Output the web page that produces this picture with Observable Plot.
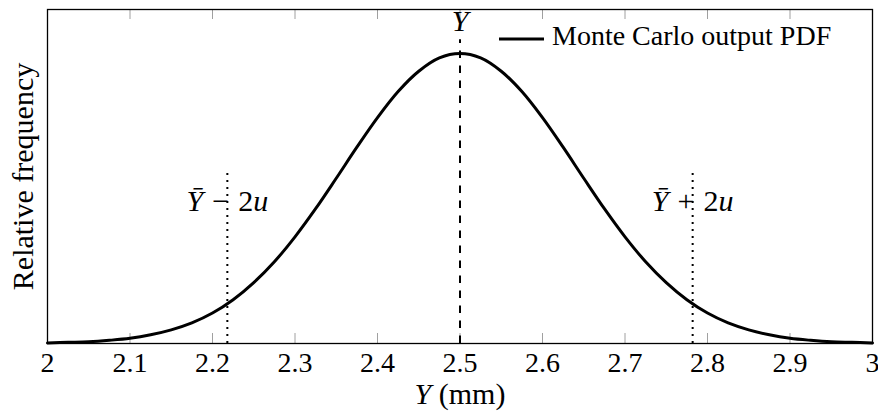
<!DOCTYPE html>
<html>
<head>
<meta charset="utf-8">
<script src="https://cdn.jsdelivr.net/npm/d3@7"></script>
<script src="https://cdn.jsdelivr.net/npm/@observablehq/plot@0.6"></script>
<style>
  html, body { margin: 0; padding: 0; background: #fff; }
  #chart svg { display: block; overflow: visible; }
  #chart svg text { font-family: 'Liberation Serif', 'Times New Roman', serif; }
</style>
</head>
<body>
<div id="chart"></div>
<script>
// Y (mm) sample positions and relative frequency
const yValues = [2.000, 2.025, 2.050, 2.075, 2.100, 2.125, 2.150, 2.175, 2.200, 2.225,
                 2.250, 2.275, 2.300, 2.325, 2.350, 2.375, 2.400, 2.425, 2.450, 2.475,
                 2.500, 2.525, 2.550, 2.575, 2.600, 2.625, 2.650, 2.675, 2.700, 2.725,
                 2.750, 2.775, 2.800, 2.825, 2.850, 2.875, 2.900, 2.925, 2.950, 2.975, 3.000];
const relFreq = [0.002, 0.004, 0.006, 0.011, 0.018, 0.030, 0.047, 0.071, 0.105, 0.151,
                 0.210, 0.282, 0.368, 0.465, 0.570, 0.677, 0.779, 0.869, 0.939, 0.985,
                 1.000, 0.985, 0.939, 0.869, 0.779, 0.677, 0.570, 0.465, 0.368, 0.282,
                 0.210, 0.151, 0.105, 0.071, 0.047, 0.030, 0.018, 0.011, 0.006, 0.004, 0.002];
const xTicks = [2, 2.1, 2.2, 2.3, 2.4, 2.5, 2.6, 2.7, 2.8, 2.9, 3];
const meanY = 2.5;
const lowerBound = 2.218;
const upperBound = 2.782;
const boundLabels = ["Ȳ − 2u", "Ȳ + 2u"];
const meanLabel = "Ȳ";
const seriesName = "Monte Carlo output PDF";
const xLabel = "Y (mm)";
const yLabel = "Relative frequency";
const meanLineTop = 1.048;
const boundLineTop = 0.597;
const yMax = 1.152;

const curve = yValues.map((x, i) => ({x, f: relFreq[i]}));
const bounds = [lowerBound, upperBound].map((x, i) => ({x, label: boundLabels[i]}));
const font = "'Liberation Serif', 'Times New Roman', serif";

function legendMark(index, scales, values, dims) {
  const right = dims.width - dims.marginRight;
  const top = dims.marginTop;
  const g = d3.create("svg:g");
  g.append("line")
    .attr("x1", right - 373).attr("x2", right - 328)
    .attr("y1", top + 30).attr("y2", top + 30)
    .attr("stroke", "black").attr("stroke-width", 3);
  g.append("text")
    .attr("x", right - 320).attr("y", top + 36)
    .attr("font-size", 28).attr("font-family", font)
    .attr("text-anchor", "start")
    .attr("fill", "black")
    .text(seriesName);
  return g.node();
}

const plot = Plot.plot({
  width: 878,
  height: 419,
  marginLeft: 47,
  marginRight: 6,
  marginTop: 9,
  marginBottom: 76,
  style: `font-family: ${font}; font-size: 28px; color: black; background: white; overflow: visible;`,
  x: {domain: [2, 3], label: null},
  y: {domain: [0, yMax], axis: null},
  marks: [
    Plot.tickX(xTicks.slice(1, -1), {x: d => d, insetBottom: 324, stroke: "#a0a0a0", strokeWidth: 1}),
    Plot.tickX(xTicks.slice(1, -1), {x: d => d, insetTop: 324, stroke: "#a0a0a0", strokeWidth: 1}),
    Plot.axisX(xTicks, {anchor: "bottom", tickSize: 0, tickPadding: 9, tickFormat: d => String(d), fontSize: 28, fontFamily: font, fill: "black", label: null}),
    Plot.ruleX([meanY], {x: d => d, y1: 0, y2: meanLineTop, stroke: "black", strokeWidth: 2, strokeDasharray: "7.5,7.5"}),
    Plot.ruleX(bounds, {x: "x", y1: 0, y2: boundLineTop, stroke: "black", strokeWidth: 2, strokeDasharray: "2,5"}),
    Plot.line(curve, {x: "x", y: "f", stroke: "black", strokeWidth: 3, curve: "catmull-rom"}),
    Plot.text(bounds, {x: "x", y: () => boundLineTop, dy: 31, text: "label", fontSize: 30, fontFamily: font, fill: "black"}),
    Plot.text([meanY], {x: d => d, frameAnchor: "top", dy: 0, text: () => meanLabel, fontSize: 30, fontFamily: font, fill: "black", clip: "frame"}),
    Plot.text([xLabel], {frameAnchor: "bottom", dy: 60, text: d => d, fontSize: 30, fontFamily: font, fill: "black"}),
    Plot.text([yLabel], {frameAnchor: "left", dx: -24, rotate: -90, textAnchor: "middle", text: d => d, fontSize: 30, fontFamily: font, fill: "black"}),
    legendMark,
    Plot.frame({stroke: "black", strokeWidth: 1.3})
  ]
});

// math-style italics and operator spacing for the variable symbols
d3.select(plot).selectAll("text").each(function() {
  const t = this.textContent;
  if (t === "Ȳ − 2u") this.innerHTML = '<tspan font-style="italic">Ȳ</tspan><tspan dx="9">−</tspan><tspan dx="9">2</tspan><tspan font-style="italic">u</tspan>';
  else if (t === "Ȳ + 2u") this.innerHTML = '<tspan font-style="italic">Ȳ</tspan><tspan dx="9">+</tspan><tspan dx="9">2</tspan><tspan font-style="italic">u</tspan>';
  else if (t === "Ȳ") this.innerHTML = '<tspan font-style="italic">Ȳ</tspan>';
  else if (t === "Y (mm)") this.innerHTML = '<tspan font-style="italic">Y</tspan> (mm)';
});

document.getElementById("chart").appendChild(plot);
</script>
</body>
</html>
